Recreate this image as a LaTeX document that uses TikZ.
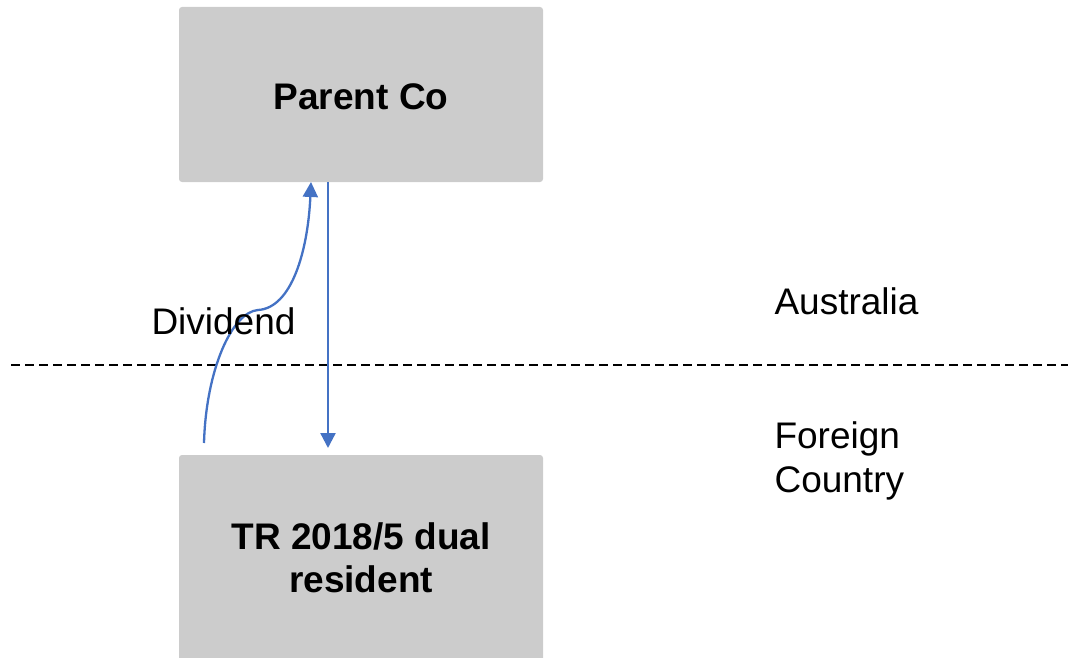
\documentclass[tikz,border=0pt]{standalone}
\usepackage{fontspec}
\setmainfont{Liberation Sans}
\usetikzlibrary{arrows.meta}
\definecolor{boxgray}{HTML}{CCCCCC}
\definecolor{arrowblue}{HTML}{4472C4}
\begin{document}
\begin{tikzpicture}[x=1pt,y=-1pt,
  entity/.style={fill=boxgray, rounded corners=3pt, draw=none},
  flow/.style={draw=arrowblue, line width=2.3pt, -{Triangle[width=15pt,length=15pt]}},
  boxtext/.style={font=\fontsize{37}{43}\selectfont\bfseries, align=center},
  lbl/.style={font=\fontsize{37}{44}\selectfont, align=left, anchor=west},
  divider/.style={draw=black, line width=1.5pt, dash pattern=on 9pt off 5pt}]
\useasboundingbox (0,0) rectangle (1071,658);
\fill[entity] (179,7) rectangle (543,182);
\node[boxtext] (parent) at (361,97) {Parent Co};
\begin{scope}
\clip (0,0) rectangle (1071,658);
\fill[entity] (179,455) rectangle (543,680);
\end{scope}
\node[boxtext] (dual) at (361,558) {TR 2018/5 dual\\resident};
\coordinate (pbot) at (328,182);
\coordinate (dtop) at (328,448);
\coordinate (cstart) at (204,443);
\coordinate (cmid) at (258,310);
\coordinate (cend) at (311,182);
\coordinate (dl) at (11,365);
\coordinate (dr) at (1068,365);
\draw[divider] (dl) -- (dr);
\draw[flow] (pbot) -- (dtop);
\draw[flow] (cstart) .. controls (206,370) and (232,312) .. (cmid) .. controls (292,308) and (308,250) .. (cend);
\node[lbl] (div) at (148,321) {Dividend};
\node[lbl] (aus) at (771,301) {Australia};
\node[lbl] (for) at (771,461) {Foreign\\Country};
\end{tikzpicture}
\end{document}
